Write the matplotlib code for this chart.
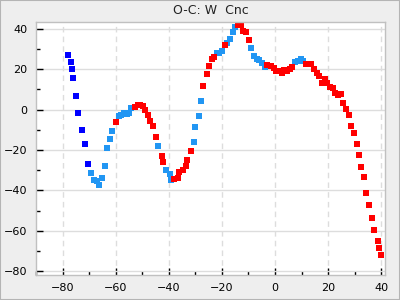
import numpy as np
import matplotlib
matplotlib.use("Agg")
import matplotlib.pyplot as plt
from matplotlib.ticker import MultipleLocator
from matplotlib.patches import Rectangle

# O-C values, three observation sets
x_dark = [-77.8, -77.0, -76.6, -76.2, -75.1, -74.0, -72.8, -71.7, -70.6]
y_dark = [27.0, 23.5, 20.0, 15.6, 6.6, -1.8, -10.2, -17.2, -27.1]

x_light = [-69.4, -68.3, -67.2, -66.1, -65.0, -64.2, -63.1, -62.0, -61.2,
           -58.9, -58.0, -57.0, -55.9, -54.9, -54.1,
           -43.9, -40.9, -39.7, -39.0,
           -30.7, -30.0, -28.8, -27.7,
           -21.7, -21.0, -19.8, -17.9, -16.8, -15.7, -14.9,
           -8.9, -7.8, -6.7, -5.9, -4.8, -3.6,
           7.4, 8.5, 9.7, 10.4]
y_light = [-31.5, -35.0, -35.5, -37.5, -34.0, -28.1, -19.1, -14.7, -10.7,
           -3.3, -2.6, -1.8, -2.3, -1.8, 0.7,
           -18.1, -30.0, -32.0, -35.0,
           -16.2, -8.7, -3.3, 4.2,
           28.0, 28.0, 29.0, 32.9, 34.9, 38.4, 40.9,
           30.4, 26.5, 25.0, 24.5, 23.0, 21.0,
           23.5, 24.0, 25.0, 24.0]

x_red = [-60.0, -52.9, -51.6, -50.9, -49.9, -48.8, -48.0, -46.9, -45.8, -45.0,
         -42.7, -42.0, -37.9, -36.7, -36.0, -34.8, -33.7, -33.0, -31.8,
         -27.0, -25.8, -24.7, -23.9, -22.8, -18.7,
         -13.8, -12.7, -11.9, -10.8, -9.7,
         -2.9, -1.4, -0.5, 0.3, 1.4, 2.5, 3.3, 4.4, 5.5, 6.3,
         11.5, 12.7, 13.4, 14.5, 15.7, 16.4, 17.6, 18.7, 19.4, 20.6,
         21.7, 22.4, 23.6, 24.7, 25.4, 26.6, 27.7, 28.5, 29.6, 30.7,
         31.5, 32.4, 33.6, 34.3, 35.5, 36.6, 37.4, 38.6, 39.0, 39.8]
y_red = [-6.2, 1.3, 2.2, 2.2, 1.7, -0.3, -2.8, -5.8, -8.2, -13.7,
         -23.1, -26.1, -34.5, -34.0, -31.0, -30.0, -28.1, -25.1, -20.6,
         11.6, 17.6, 21.5, 25.0, 26.0, 31.9,
         41.8, 41.8, 38.9, 38.4, 34.4,
         22.0, 21.5, 20.5, 19.0, 19.0, 18.0, 19.5, 19.0, 20.0, 21.0,
         22.5, 22.5, 22.5, 20.0, 18.0, 16.6, 13.1, 15.1, 13.1, 11.1,
         10.6, 8.1, 7.1, 7.6, 3.2, 0.2, -2.8, -8.2, -11.7, -17.2,
         -22.6, -28.6, -33.5, -41.4, -47.4, -53.8, -59.3, -65.2, -68.2, -71.7]

fig = plt.figure(figsize=(4, 3), dpi=100, facecolor="#eeeeee")
fig.patches.append(Rectangle((0, 0), 1, 1, transform=fig.transFigure,
                             fill=False, edgecolor="#b4b4b4", linewidth=1.5))
ax = fig.add_axes([0.09, 0.0833, 0.8725, 0.8434])
ax.set_facecolor("white")

ax.plot(x_dark, y_dark, "s", color="#0000ff", markersize=3.8, markeredgewidth=0)
ax.plot(x_light, y_light, "s", color="#2196f3", markersize=3.8, markeredgewidth=0)
ax.plot(x_red, y_red, "s", color="#ff0000", markersize=3.8, markeredgewidth=0)

ax.set_xlim(-90, 41.4)
ax.set_ylim(-81.8, 43.3)
ax.xaxis.set_major_locator(MultipleLocator(20))
ax.xaxis.set_minor_locator(MultipleLocator(10))
ax.yaxis.set_major_locator(MultipleLocator(20))
ax.yaxis.set_minor_locator(MultipleLocator(10))

ax.grid(True, axis="x", which="major", color="#dddddd", linestyle=(0, (4, 3)), linewidth=1)
ax.grid(True, axis="y", which="major", color="#dddddd", linestyle="-", linewidth=1)
ax.set_axisbelow(True)

ax.tick_params(which="both", direction="in", color="black", labelsize=8, width=1)
ax.tick_params(which="major", length=5, pad=6)
ax.tick_params(which="minor", length=3)
for s in ax.spines.values():
    s.set_color("#c0c0c0")
    s.set_linewidth(1)

ax.set_title("O-C: W  Cnc", fontsize=9, color="#222222", pad=6)

fig.savefig("out.png", dpi=100, facecolor=fig.get_facecolor())
